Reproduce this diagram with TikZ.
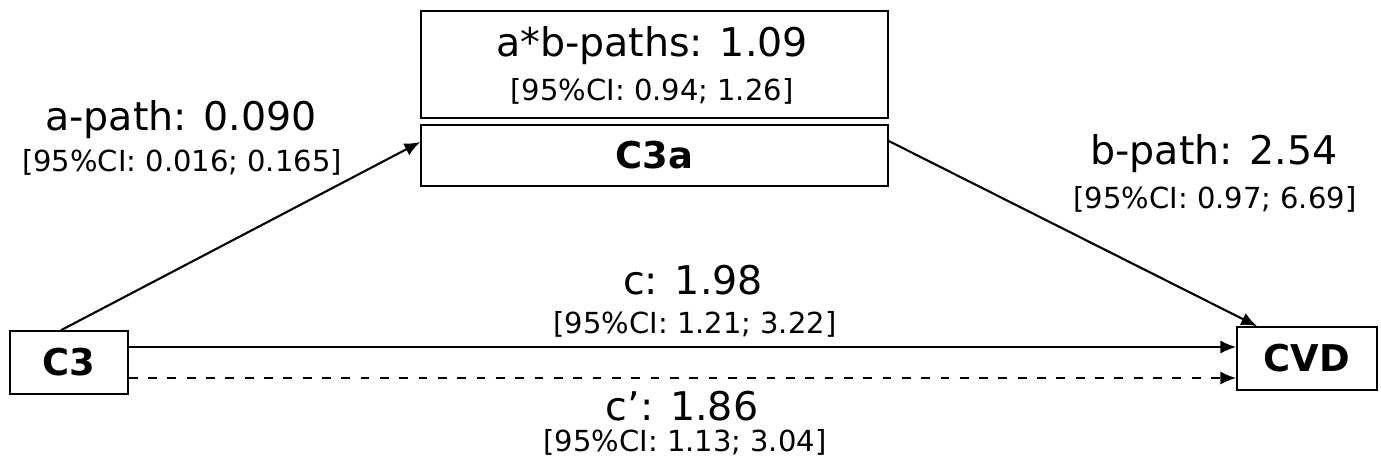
\documentclass[tikz,border=0pt]{standalone}
\usepackage{fontspec}
\setmainfont{DejaVu Sans}
\usetikzlibrary{arrows.meta}

\begin{document}
\begin{tikzpicture}[x=0.02cm, y=-0.02cm,
    varbox/.style={draw, line width=0.9pt, inner sep=0pt,
      font=\fontsize{21}{25}\selectfont\bfseries},
    biglbl/.style={inner sep=0pt, font=\fontsize{22.5}{27}\selectfont},
    cilbl/.style={inner sep=0pt, font=\fontsize{16.5}{20}\selectfont},
    patharrow/.style={line width=1.2pt, -{Latex[length=9pt, width=7.5pt]}}]
  \useasboundingbox (0,0) rectangle (1381,466);

  % the three variables
  \node[varbox, minimum width=2.36cm, minimum height=1.26cm] (c3) at (69,362.5) {C3};
  \node[varbox, minimum width=2.8cm, minimum height=1.26cm] (cvd) at (1307,358.5) {CVD};
  \node[varbox, minimum width=9.34cm, minimum height=1.22cm] (c3a) at (654.5,155.5) {C3a};

  % indirect effect sits right on top of the mediator
  \node[draw, line width=0.9pt, minimum width=9.34cm, minimum height=2.14cm] (ab) at (654.5,64.5) {};

  % estimates with their intervals
  \foreach \n/\x/\y/\cx/\cy/\est/\ci in {
    ab/652/46/652/91/{a*b-paths: 1.09}/{0.94; 1.26},
    apath/181/120/182/162/{a-path: 0.090}/{0.016; 0.165},
    bpath/1214/154/1215/199/{b-path: 2.54}/{0.97; 6.69},
    c/693/280/695/324/{c: 1.98}/{1.21; 3.22},
    cprime/682/406/685/442/{c’: 1.86}/{1.13; 3.04}%
  } {
    \node[biglbl] (\n-est) at (\x,\y) {\est};
    \node[cilbl] (\n-ci) at (\cx,\cy) {[95\%CI: \ci]};
  }

  % a- and b-path
  \draw[patharrow] ([xshift=-0.16cm]c3.north) -- ([yshift=0.27cm]c3a.west);
  \draw[patharrow] ([yshift=0.29cm]c3a.east) -- ([xshift=-1cm]cvd.north);

  % total and direct effect
  \draw[patharrow] ([yshift=0.31cm]c3.east) -- ([yshift=0.31cm]c3.east -| cvd.west);
  \draw[patharrow, dash pattern=on 5pt off 6pt]
    ([yshift=-0.31cm]c3.east) -- ([yshift=-0.31cm]c3.east -| cvd.west);
\end{tikzpicture}
\end{document}
